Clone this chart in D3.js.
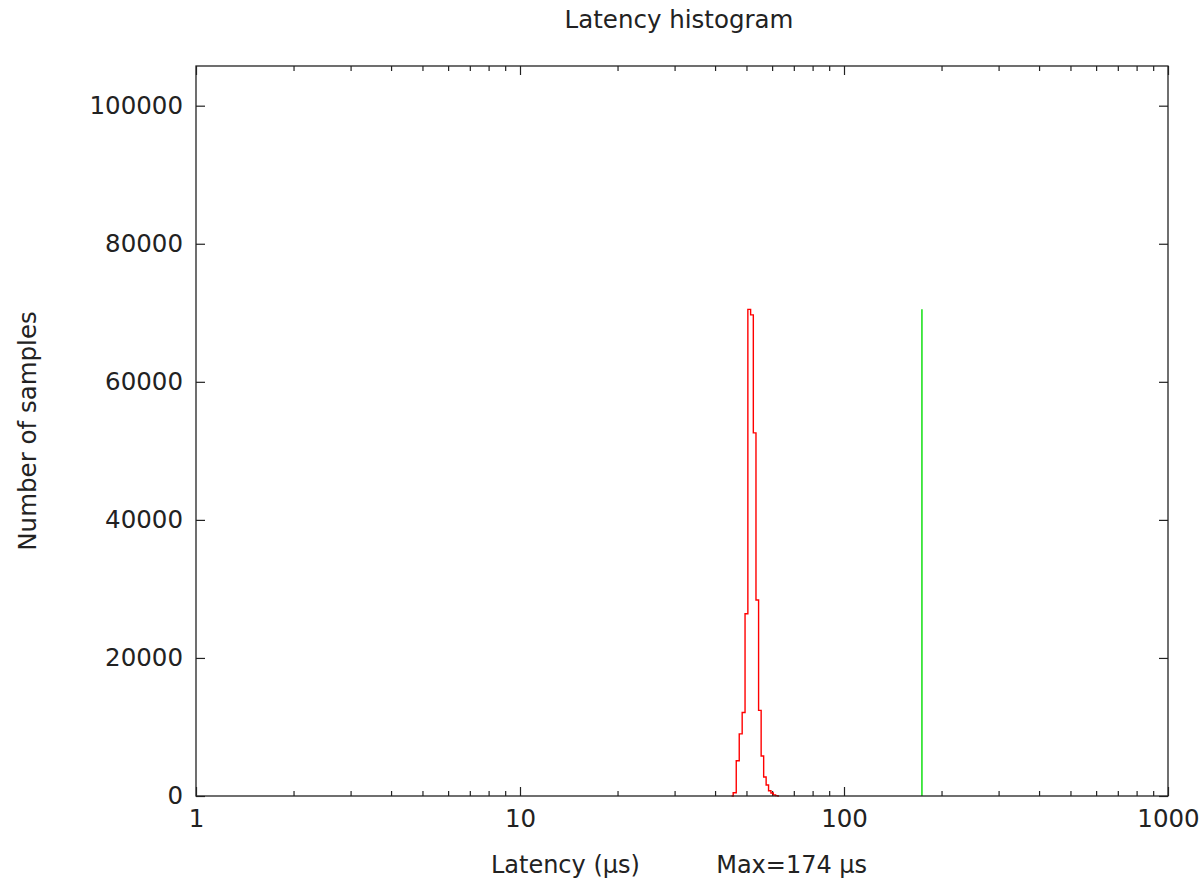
<!DOCTYPE html>
<html>
<head>
<meta charset="utf-8">
<script src="https://cdn.jsdelivr.net/npm/d3@7"></script>
<style>
  body { margin: 0; background: #fff; }
  text { font-family: "DejaVu Sans", sans-serif; fill: #222; }
</style>
</head>
<body>
<div id="chart"></div>
<script>
// histogram bins (latency in us) and sample counts
var latencyBins = [45, 46, 47, 48, 49, 50, 51, 52, 53, 54, 55, 56, 57, 58, 59, 60, 61, 62, 63];
var sampleCounts = [0, 480, 5100, 9000, 12100, 26400, 70500, 69700, 52600, 28400, 12400, 5800, 2750, 1600, 770, 430, 150, 50, 0];

var maxLatency = 174;
var peakCount = 70500;

var xMajorTicks = [1, 10, 100, 1000];
var xMinorTicks = [2, 3, 4, 5, 6, 7, 8, 9, 20, 30, 40, 50, 60, 70, 80, 90, 200, 300, 400, 500, 600, 700, 800, 900];
var yTicks = [0, 20000, 40000, 60000, 80000, 100000];

var global_width = 1200,
    global_height = 881;

var margin = { top: 66, right: 32, bottom: 85, left: 196 };
var width = global_width - margin.left - margin.right,
    height = global_height - margin.top - margin.bottom;

var fontSize = "24.5px";

var svg = d3.select("#chart")
    .append("svg")
    .attr("width", global_width)
    .attr("height", global_height);

var plot = svg.append("g")
    .attr("transform", "translate(" + margin.left + "," + margin.top + ")");

// scales
var xScale = d3.scaleLog().domain([1, 1000]).range([0, width]);
var yScale = d3.scaleLinear().domain([0, peakCount * 1.5]).range([height, 0]);

// ticks point inward on all four sides (gnuplot style)
function styleAxis(g) {
    g.select(".domain").remove();
    g.selectAll("line").attr("stroke", "#222").attr("stroke-width", 1.2);
    g.selectAll("text").attr("font-size", fontSize).attr("fill", "#222");
}

plot.append("g")
    .attr("transform", "translate(0," + height + ")")
    .call(d3.axisBottom(xScale).tickValues(xMajorTicks).tickFormat(d3.format("d"))
          .tickSize(-9).tickPadding(14))
    .call(styleAxis);

plot.append("g")
    .attr("transform", "translate(0," + height + ")")
    .call(d3.axisBottom(xScale).tickValues(xMinorTicks).tickFormat("").tickSize(-5))
    .call(styleAxis);

plot.append("g")
    .call(d3.axisTop(xScale).tickValues(xMajorTicks).tickFormat("").tickSize(-9))
    .call(styleAxis);

plot.append("g")
    .call(d3.axisTop(xScale).tickValues(xMinorTicks).tickFormat("").tickSize(-5))
    .call(styleAxis);

plot.append("g")
    .call(d3.axisLeft(yScale).tickValues(yTicks).tickFormat(d3.format("d"))
          .tickSize(-9).tickPadding(13))
    .call(styleAxis);

plot.append("g")
    .attr("transform", "translate(" + width + ",0)")
    .call(d3.axisRight(yScale).tickValues(yTicks).tickFormat("").tickSize(-9))
    .call(styleAxis);

// histogram as steps
var histLine = d3.line()
    .x(function(d, i) { return xScale(latencyBins[i]); })
    .y(function(d) { return yScale(d); })
    .curve(d3.curveStep);

plot.append("path")
    .datum(sampleCounts)
    .attr("d", histLine)
    .attr("fill", "none")
    .attr("stroke", "#ff0000")
    .attr("stroke-width", 1.4);

// max latency marker
plot.append("line")
    .attr("x1", xScale(maxLatency))
    .attr("x2", xScale(maxLatency))
    .attr("y1", yScale(0))
    .attr("y2", yScale(peakCount))
    .attr("stroke", "#00dd00")
    .attr("stroke-width", 1.4);

// border
plot.append("rect")
    .attr("width", width)
    .attr("height", height)
    .attr("fill", "none")
    .attr("stroke", "#222")
    .attr("stroke-width", 1.3);

// titles
svg.append("text")
    .attr("x", margin.left + width / 2 - 3)
    .attr("y", 28)
    .attr("text-anchor", "middle")
    .attr("font-size", fontSize)
    .text("Latency histogram");

svg.append("text")
    .attr("transform", "translate(36," + (margin.top + height / 2) + ") rotate(-90)")
    .attr("text-anchor", "middle")
    .attr("font-size", fontSize)
    .text("Number of samples");

svg.append("text")
    .attr("x", margin.left + width / 2 - 3)
    .attr("y", 873)
    .attr("text-anchor", "middle")
    .attr("font-size", "24px")
    .style("white-space", "pre")
    .text("Latency (µs)          Max=" + maxLatency + " µs");
</script>
</body>
</html>
